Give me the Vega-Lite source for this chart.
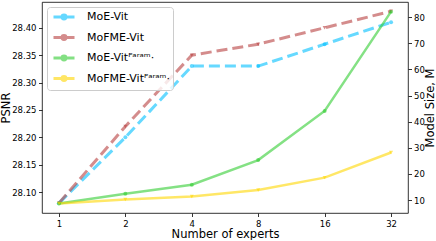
{
  "$schema": "https://vega.github.io/schema/vega-lite/v6.json",
  "width": 366,
  "height": 211,
  "padding": {"left": 0, "top": 2, "right": 0, "bottom": 0},
  "config": {
    "font": "DejaVu Sans",
    "view": {"stroke": "#000", "strokeWidth": 0.8},
    "axis": {"grid": false, "domain": false, "tickColor": "#000", "tickSize": 3.5, "tickWidth": 0.8, "labelColor": "#000", "labelFontSize": 8.5, "titleFontSize": 11.5, "titleFontWeight": "normal", "titleColor": "#000", "labelPadding": 2.5}
  },
  "datasets": {
    "psnr": [
      {"experts": 1, "series": "MoE-Vit", "psnr": 28.08},
      {"experts": 2, "series": "MoE-Vit", "psnr": 28.20},
      {"experts": 4, "series": "MoE-Vit", "psnr": 28.33},
      {"experts": 8, "series": "MoE-Vit", "psnr": 28.33},
      {"experts": 16, "series": "MoE-Vit", "psnr": 28.37},
      {"experts": 32, "series": "MoE-Vit", "psnr": 28.41},
      {"experts": 1, "series": "MoFME-Vit", "psnr": 28.08},
      {"experts": 2, "series": "MoFME-Vit", "psnr": 28.22},
      {"experts": 4, "series": "MoFME-Vit", "psnr": 28.35},
      {"experts": 8, "series": "MoFME-Vit", "psnr": 28.37},
      {"experts": 16, "series": "MoFME-Vit", "psnr": 28.40},
      {"experts": 32, "series": "MoFME-Vit", "psnr": 28.43}
    ],
    "size": [
      {"experts": 1, "series": "MoE-Vitᴾᵃʳᵃᵐ·", "size": 8.7},
      {"experts": 2, "series": "MoE-Vitᴾᵃʳᵃᵐ·", "size": 12.4},
      {"experts": 4, "series": "MoE-Vitᴾᵃʳᵃᵐ·", "size": 15.9},
      {"experts": 8, "series": "MoE-Vitᴾᵃʳᵃᵐ·", "size": 25.3},
      {"experts": 16, "series": "MoE-Vitᴾᵃʳᵃᵐ·", "size": 44.1},
      {"experts": 32, "series": "MoE-Vitᴾᵃʳᵃᵐ·", "size": 82.1},
      {"experts": 1, "series": "MoFME-Vitᴾᵃʳᵃᵐ·", "size": 8.7},
      {"experts": 2, "series": "MoFME-Vitᴾᵃʳᵃᵐ·", "size": 10.2},
      {"experts": 4, "series": "MoFME-Vitᴾᵃʳᵃᵐ·", "size": 11.4},
      {"experts": 8, "series": "MoFME-Vitᴾᵃʳᵃᵐ·", "size": 13.9},
      {"experts": 16, "series": "MoFME-Vitᴾᵃʳᵃᵐ·", "size": 18.6},
      {"experts": 32, "series": "MoFME-Vitᴾᵃʳᵃᵐ·", "size": 28.2}
    ]
  },
  "encoding": {
    "x": {"field": "experts", "type": "ordinal", "scale": {"type": "point", "padding": 0.255}, "axis": {"title": "Number of experts", "labelAngle": 0, "titlePadding": 1}},
    "color": {
      "field": "series", "type": "nominal",
      "scale": {"domain": ["MoE-Vit", "MoFME-Vit", "MoE-Vitᴾᵃʳᵃᵐ·", "MoFME-Vitᴾᵃʳᵃᵐ·"], "range": ["#00bfff", "#b84040", "#32cd32", "#ffd700"]},
      "legend": {
        "title": null, "orient": "top-left", "offset": 5,
        "fillColor": "rgba(255,255,255,0.8)", "strokeColor": "#cccccc", "cornerRadius": 3, "padding": 3,
        "labelFontSize": 11, "labelColor": "#000", "symbolSize": 121, "symbolStrokeWidth": 3, "rowPadding": 4.5, "labelOffset": 16, "symbolOffset": 7,
        "symbolType": "M-1.91,0H1.91M-0.36,0A0.36,0.36,0,1,0,0.36,0A0.36,0.36,0,1,0,-0.36,0Z",
        "encode": {"symbols": {
          "update": {
            "strokeDash": {"signal": "indexof(datum.value, 'ᴾ') >= 0 ? [] : [7,3]"},
            "fill": {"scale": "color", "field": "value"},
            "opacity": {"value": 0.6}
          }
        }}
      }
    }
  },
  "layer": [
    {
      "data": {"name": "psnr"},
      "encoding": {"y": {"field": "psnr", "type": "quantitative", "scale": {"domain": [28.062, 28.447], "nice": false, "zero": false}, "axis": {"title": "PSNR", "orient": "left", "values": [28.10, 28.15, 28.20, 28.25, 28.30, 28.35, 28.40], "format": ".2f", "titlePadding": 0}}},
      "layer": [
        {"mark": {"type": "line", "strokeDash": [11, 5], "strokeWidth": 3, "opacity": 0.6}},
        {"transform": [{"filter": "indexof(datum.series, 'MoE') === 0"}], "mark": {"type": "point", "shape": "circle", "filled": true, "size": 16, "opacity": 0.6}},
        {"transform": [{"filter": "indexof(datum.series, 'MoFME') === 0"}], "mark": {"type": "point", "shape": "triangle-down", "filled": true, "size": 16, "opacity": 0.6}}
      ]
    },
    {
      "data": {"name": "size"},
      "encoding": {"y": {"field": "size", "type": "quantitative", "scale": {"domain": [5.06, 85.8], "nice": false, "zero": false}, "axis": {"title": "Model Size, M", "orient": "right", "values": [10, 20, 30, 40, 50, 60, 70, 80], "labelPadding": 2, "titleAngle": 270, "titleBaseline": "top", "titlePadding": 0.5}}},
      "layer": [
        {"mark": {"type": "line", "strokeWidth": 2.5, "opacity": 0.6}},
        {"transform": [{"filter": "indexof(datum.series, 'MoE') === 0"}], "mark": {"type": "point", "shape": "circle", "filled": true, "size": 16, "opacity": 0.6}},
        {"transform": [{"filter": "indexof(datum.series, 'MoFME') === 0"}], "mark": {"type": "point", "shape": "triangle-down", "filled": true, "size": 16, "opacity": 0.6}}
      ]
    }
  ],
  "resolve": {"scale": {"y": "independent"}}
}
